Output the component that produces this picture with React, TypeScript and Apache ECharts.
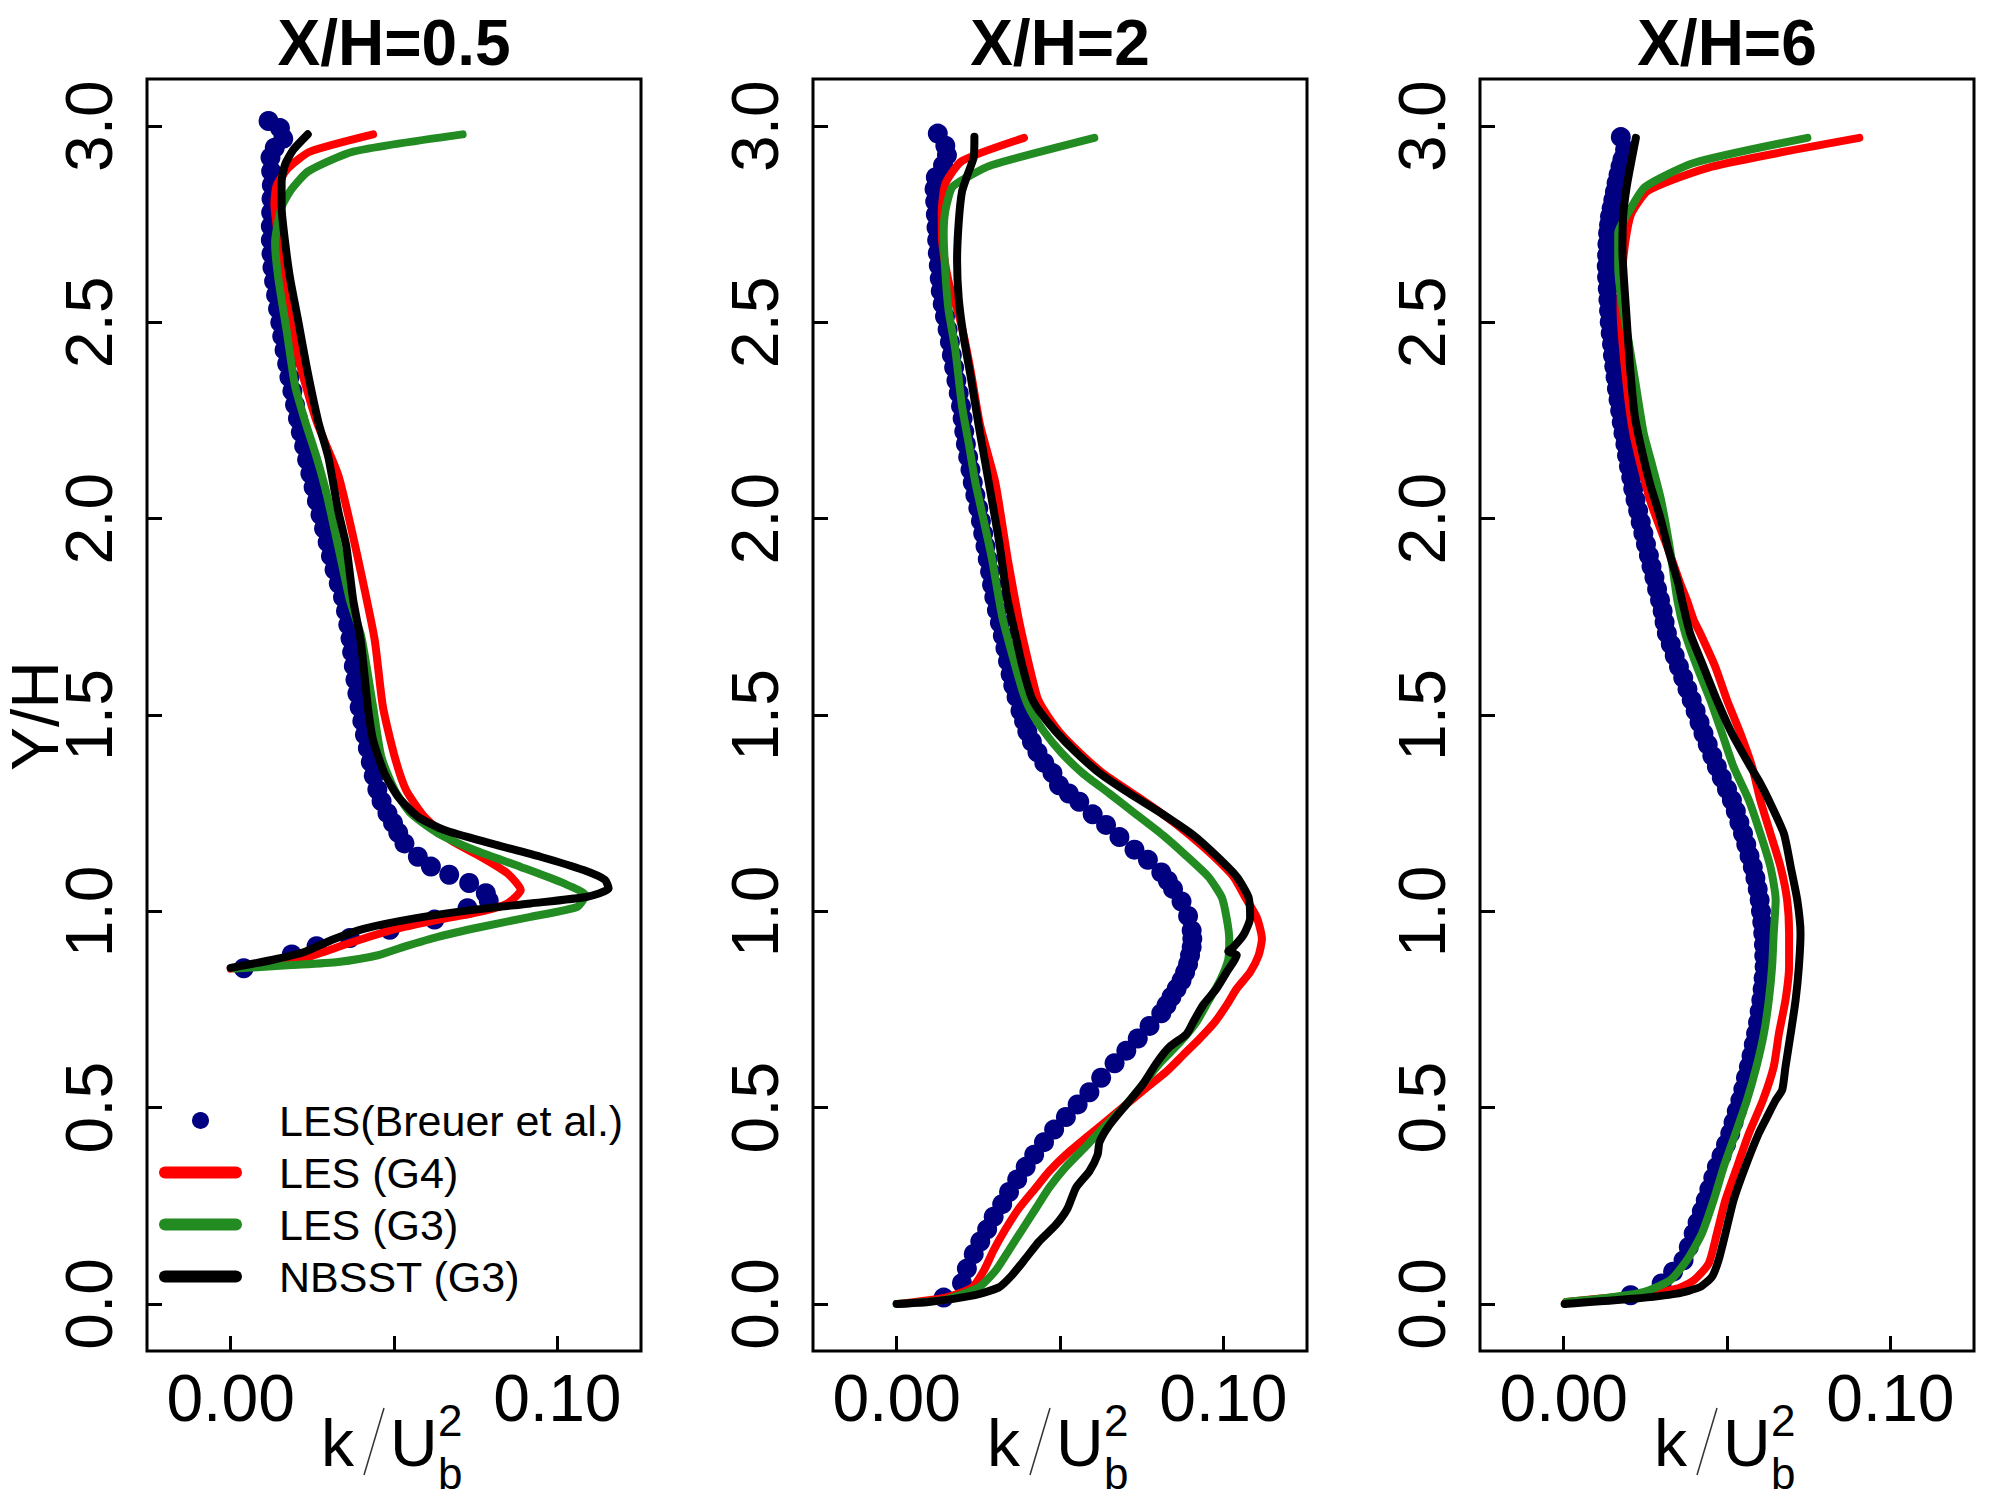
import React, { useEffect, useRef } from "react";
import * as echarts from "echarts";

const panelTitles = ["X/H=0.5", "X/H=2", "X/H=6"];
const seriesNames = ["LES(Breuer et al.)", "LES (G4)", "LES (G3)", "NBSST (G3)"];
const seriesColors = ["#000080", "#FF0000", "#228B22", "#000000"];
const xTickValues = [0, 0.05, 0.1];
const xLabelValues = [0, 0.1];
const yTickValues = [0, 0.5, 1, 1.5, 2, 2.5, 3];
const xRange = [-0.0256, 0.1256];
const yRange = [-0.12, 3.12];

// ---------- Panel 1 : X/H = 0.5 ----------
const p1Les = [
  [0.0116, 3.013], [0.0151, 2.995], [0.0161, 2.968], [0.0135, 2.945], [0.0122, 2.92], [0.0124, 2.885],
  [0.0126, 2.85], [0.0125, 2.815], [0.0124, 2.78], [0.0123, 2.745], [0.0123, 2.71], [0.0125, 2.675],
  [0.0128, 2.64], [0.0133, 2.605], [0.0139, 2.57], [0.0145, 2.535], [0.0152, 2.5], [0.0158, 2.465],
  [0.0165, 2.43], [0.0173, 2.395], [0.018, 2.36], [0.0189, 2.325], [0.0197, 2.29], [0.0206, 2.255],
  [0.0215, 2.22], [0.0225, 2.185], [0.0234, 2.15], [0.0244, 2.115], [0.0254, 2.08], [0.0264, 2.045],
  [0.0275, 2.01], [0.0286, 1.975], [0.0297, 1.94], [0.0307, 1.905], [0.0318, 1.87], [0.0331, 1.835],
  [0.0344, 1.8], [0.0353, 1.765], [0.036, 1.73], [0.0367, 1.695], [0.0372, 1.66], [0.0377, 1.625],
  [0.0382, 1.59], [0.0388, 1.555], [0.0395, 1.52], [0.0403, 1.485], [0.0411, 1.45], [0.042, 1.415],
  [0.0429, 1.38], [0.0438, 1.345], [0.0449, 1.31], [0.0462, 1.28], [0.048, 1.25], [0.0497, 1.225],
  [0.0513, 1.2], [0.0532, 1.173], [0.0573, 1.139], [0.0613, 1.114], [0.0669, 1.093], [0.073, 1.072],
  [0.0781, 1.046], [0.079, 1.027], [0.0725, 1.008], [0.0624, 0.979], [0.0487, 0.953], [0.0365, 0.932],
  [0.0263, 0.911], [0.0187, 0.89], [0.004, 0.855],
];
const p1G4 = [
  [0.0436, 2.979], [0.0243, 2.935], [0.0177, 2.894], [0.0141, 2.849], [0.0134, 2.803], [0.0148, 2.7],
  [0.0172, 2.55], [0.021, 2.4], [0.0262, 2.25], [0.0329, 2.112], [0.0368, 1.98], [0.0405, 1.839],
  [0.0441, 1.691], [0.0466, 1.521], [0.0502, 1.394], [0.0537, 1.309], [0.0593, 1.241], [0.0674, 1.181],
  [0.0766, 1.139], [0.0847, 1.097], [0.0888, 1.054], [0.0847, 1.02], [0.0766, 0.999], [0.0634, 0.978],
  [0.0492, 0.952], [0.036, 0.918], [0.0238, 0.884], [0.0106, 0.863], [0.0, 0.854],
];
const p1G3 = [
  [0.071, 2.979], [0.0375, 2.935], [0.0238, 2.885], [0.0187, 2.84], [0.0156, 2.794], [0.0136, 2.703],
  [0.0146, 2.612], [0.0172, 2.476], [0.0197, 2.339], [0.0228, 2.248], [0.0263, 2.157], [0.0293, 2.066],
  [0.0329, 1.93], [0.0365, 1.793], [0.04, 1.7], [0.0436, 1.521], [0.0461, 1.394], [0.0502, 1.309],
  [0.0552, 1.249], [0.0634, 1.199], [0.0746, 1.156], [0.0888, 1.113], [0.102, 1.071], [0.1086, 1.041],
  [0.106, 1.011], [0.0918, 0.986], [0.0766, 0.96], [0.0634, 0.935], [0.0532, 0.91], [0.0451, 0.888],
  [0.0329, 0.871], [0.0187, 0.863], [0.0014, 0.854],
];
const p1Nb = [
  [0.0236, 2.979], [0.0192, 2.94], [0.0167, 2.903], [0.0156, 2.858], [0.0156, 2.794], [0.0167, 2.703],
  [0.0182, 2.612], [0.0207, 2.503], [0.0233, 2.385], [0.0268, 2.248], [0.0299, 2.157], [0.0329, 2.021],
  [0.0354, 1.93], [0.0375, 1.793], [0.0398, 1.69], [0.042, 1.521], [0.0436, 1.436], [0.0471, 1.351],
  [0.0512, 1.292], [0.0573, 1.241], [0.0654, 1.207], [0.0796, 1.173], [0.0948, 1.139], [0.108, 1.105],
  [0.1146, 1.08], [0.1157, 1.058], [0.1091, 1.037], [0.0918, 1.02], [0.0735, 1.003], [0.0563, 0.982],
  [0.041, 0.956], [0.0309, 0.927], [0.0228, 0.897], [0.0126, 0.876], [0.0, 0.856],
];

// ---------- Panel 2 : X/H = 2 ----------
const p2Les = [
  [0.0126, 2.981], [0.0149, 2.95], [0.0154, 2.926], [0.0142, 2.9], [0.012, 2.87], [0.0116, 2.84],
  [0.0118, 2.808], [0.012, 2.775], [0.0122, 2.742], [0.0124, 2.71], [0.0126, 2.677], [0.0129, 2.645],
  [0.0132, 2.612], [0.0135, 2.58], [0.0141, 2.547], [0.0148, 2.515], [0.0156, 2.482], [0.0163, 2.45],
  [0.0169, 2.417], [0.0176, 2.385], [0.0183, 2.352], [0.019, 2.32], [0.0197, 2.287], [0.0202, 2.255],
  [0.0207, 2.222], [0.0212, 2.19], [0.0219, 2.157], [0.0226, 2.125], [0.0233, 2.092], [0.0241, 2.06],
  [0.025, 2.027], [0.0258, 1.994], [0.0265, 1.962], [0.0272, 1.93], [0.0279, 1.897], [0.0286, 1.865],
  [0.0292, 1.832], [0.0299, 1.8], [0.0307, 1.767], [0.0316, 1.735], [0.0325, 1.702], [0.0333, 1.67],
  [0.0341, 1.637], [0.0349, 1.604], [0.0357, 1.575], [0.0367, 1.546], [0.0379, 1.511], [0.039, 1.485],
  [0.04, 1.458], [0.0414, 1.432], [0.0431, 1.405], [0.0452, 1.378], [0.0477, 1.352], [0.0497, 1.321],
  [0.0527, 1.3], [0.0559, 1.279], [0.06, 1.247], [0.0641, 1.22], [0.0682, 1.189], [0.0728, 1.157],
  [0.0769, 1.131], [0.081, 1.099], [0.083, 1.078], [0.0846, 1.057], [0.0872, 1.025], [0.0892, 0.988],
  [0.0903, 0.951], [0.0905, 0.93], [0.0903, 0.909], [0.0898, 0.888], [0.0892, 0.866], [0.0883, 0.845],
  [0.0872, 0.824], [0.0857, 0.803], [0.0841, 0.782], [0.0826, 0.761], [0.081, 0.74], [0.0774, 0.708],
  [0.0738, 0.676], [0.0703, 0.645], [0.0667, 0.613], [0.0626, 0.576], [0.059, 0.539], [0.0554, 0.508],
  [0.0518, 0.476], [0.0482, 0.444], [0.0451, 0.412], [0.0421, 0.38], [0.0395, 0.349], [0.0369, 0.317],
  [0.0344, 0.285], [0.0323, 0.254], [0.0297, 0.222], [0.0277, 0.19], [0.0256, 0.159], [0.0236, 0.127],
  [0.0215, 0.09], [0.02, 0.053], [0.0144, 0.016],
];
const p2G4 = [
  [0.039, 2.97], [0.02, 2.911], [0.0149, 2.853], [0.0138, 2.775], [0.014, 2.7], [0.016, 2.6],
  [0.019, 2.52], [0.0207, 2.46], [0.0228, 2.37], [0.0255, 2.24], [0.0302, 2.092], [0.034, 1.897],
  [0.0372, 1.751], [0.0398, 1.653], [0.043, 1.546], [0.0452, 1.511], [0.0497, 1.458], [0.0559, 1.405],
  [0.0631, 1.352], [0.0723, 1.3], [0.0815, 1.247], [0.0897, 1.194], [0.0969, 1.141], [0.1031, 1.088],
  [0.1067, 1.036], [0.1103, 0.983], [0.1118, 0.93], [0.1108, 0.888], [0.1082, 0.845], [0.1041, 0.803],
  [0.101, 0.761], [0.0974, 0.718], [0.0928, 0.676], [0.0877, 0.634], [0.0826, 0.592], [0.0764, 0.55],
  [0.0703, 0.508], [0.0641, 0.465], [0.0579, 0.423], [0.0518, 0.38], [0.0467, 0.338], [0.0426, 0.296],
  [0.0374, 0.243], [0.0333, 0.19], [0.0297, 0.137], [0.0267, 0.085], [0.0231, 0.042], [0.0149, 0.016],
  [0.0005, 0.0],
];
const p2G3 = [
  [0.0605, 2.97], [0.0292, 2.901], [0.021, 2.867], [0.0169, 2.843], [0.0149, 2.784], [0.0144, 2.726],
  [0.0149, 2.629], [0.0159, 2.531], [0.0179, 2.434], [0.02, 2.287], [0.0221, 2.19], [0.0241, 2.092],
  [0.0267, 1.994], [0.0292, 1.897], [0.0323, 1.751], [0.0354, 1.653], [0.0386, 1.56], [0.041, 1.511],
  [0.0451, 1.458], [0.0503, 1.405], [0.0569, 1.352], [0.0651, 1.3], [0.0733, 1.247], [0.0815, 1.194],
  [0.0887, 1.141], [0.0954, 1.088], [0.0995, 1.036], [0.101, 0.983], [0.1018, 0.93], [0.1015, 0.877],
  [0.099, 0.824], [0.0954, 0.771], [0.0918, 0.718], [0.0867, 0.666], [0.0805, 0.613], [0.0754, 0.56],
  [0.0703, 0.508], [0.0641, 0.455], [0.0579, 0.401], [0.0518, 0.349], [0.0467, 0.296], [0.0426, 0.243],
  [0.0385, 0.19], [0.0344, 0.137], [0.0303, 0.085], [0.0251, 0.042], [0.0149, 0.011], [0.0, 0.0],
];
const p2Nb = [
  [0.0238, 2.973], [0.0236, 2.921], [0.0215, 2.872], [0.02, 2.833], [0.019, 2.755], [0.0185, 2.658],
  [0.019, 2.561], [0.0205, 2.463], [0.0226, 2.365], [0.0251, 2.238], [0.0282, 2.092], [0.0313, 1.945],
  [0.0338, 1.8], [0.0364, 1.702], [0.0385, 1.624], [0.0412, 1.546], [0.0436, 1.511], [0.0487, 1.458],
  [0.0549, 1.405], [0.0621, 1.352], [0.0713, 1.3], [0.0815, 1.247], [0.0908, 1.194], [0.0979, 1.141],
  [0.1041, 1.088], [0.1077, 1.036], [0.1082, 0.983], [0.1062, 0.94], [0.1031, 0.909], [0.1015, 0.898],
  [0.1041, 0.888], [0.101, 0.845], [0.0979, 0.803], [0.0938, 0.761], [0.0908, 0.718], [0.0887, 0.687],
  [0.0836, 0.655], [0.0795, 0.613], [0.0754, 0.56], [0.0703, 0.508], [0.0651, 0.455], [0.0621, 0.412],
  [0.0615, 0.38], [0.059, 0.338], [0.0549, 0.296], [0.0523, 0.243], [0.0487, 0.201], [0.0436, 0.159],
  [0.0395, 0.116], [0.0354, 0.074], [0.0313, 0.042], [0.0231, 0.021], [0.0097, 0.005], [0.0, 0.0],
];

// ---------- Panel 3 : X/H = 6 ----------
const p3Les = [
  [0.0175, 2.972], [0.0188, 2.94], [0.018, 2.915], [0.0174, 2.897], [0.0168, 2.876], [0.0162, 2.855],
  [0.0157, 2.833], [0.0152, 2.812], [0.0147, 2.791], [0.0142, 2.77], [0.0139, 2.749], [0.0136, 2.728],
  [0.0134, 2.7], [0.0133, 2.671], [0.0132, 2.643], [0.0133, 2.615], [0.0135, 2.586], [0.0137, 2.558],
  [0.0139, 2.53], [0.0141, 2.501], [0.0144, 2.473], [0.0148, 2.445], [0.0151, 2.416], [0.0155, 2.388],
  [0.0159, 2.36], [0.0163, 2.331], [0.0168, 2.303], [0.0173, 2.275], [0.0178, 2.246], [0.0183, 2.218],
  [0.0189, 2.19], [0.0194, 2.161], [0.02, 2.133], [0.0207, 2.105], [0.0213, 2.076], [0.022, 2.048],
  [0.0228, 2.02], [0.0236, 1.991], [0.0244, 1.963], [0.0252, 1.935], [0.0261, 1.906], [0.0269, 1.878],
  [0.0278, 1.85], [0.0286, 1.821], [0.0295, 1.793], [0.0303, 1.765], [0.0309, 1.736], [0.0316, 1.708],
  [0.0328, 1.68], [0.034, 1.651], [0.0353, 1.623], [0.0366, 1.595], [0.0379, 1.566], [0.0392, 1.538],
  [0.0404, 1.51], [0.0416, 1.481], [0.0428, 1.453], [0.0441, 1.425], [0.0455, 1.396], [0.0469, 1.368],
  [0.0484, 1.34], [0.05, 1.311], [0.0515, 1.283], [0.0527, 1.255], [0.0538, 1.226], [0.0549, 1.198],
  [0.0559, 1.17], [0.0569, 1.141], [0.0579, 1.113], [0.0587, 1.085], [0.0594, 1.057], [0.06, 1.029],
  [0.0604, 1.0], [0.0608, 0.972], [0.0611, 0.944], [0.0613, 0.915], [0.0614, 0.887], [0.0615, 0.859],
  [0.0612, 0.83], [0.0609, 0.802], [0.0605, 0.774], [0.06, 0.745], [0.0595, 0.717], [0.0589, 0.689],
  [0.0582, 0.661], [0.0575, 0.632], [0.0567, 0.604], [0.0558, 0.576], [0.055, 0.547], [0.0541, 0.519],
  [0.053, 0.491], [0.052, 0.462], [0.051, 0.434], [0.0497, 0.406], [0.0483, 0.377], [0.0469, 0.349],
  [0.0458, 0.321], [0.0446, 0.292], [0.0435, 0.264], [0.0423, 0.236], [0.041, 0.207], [0.0398, 0.179],
  [0.0383, 0.145], [0.0367, 0.111], [0.0335, 0.082], [0.03, 0.052], [0.0205, 0.022],
];
const p3G4 = [
  [0.0905, 2.97], [0.0454, 2.897], [0.0259, 2.836], [0.0208, 2.779], [0.0193, 2.728], [0.018, 2.64],
  [0.0174, 2.541], [0.0187, 2.388], [0.0213, 2.218], [0.0264, 2.048], [0.0321, 1.92], [0.0357, 1.835],
  [0.0377, 1.793], [0.0398, 1.742], [0.0418, 1.708], [0.0464, 1.623], [0.05, 1.538], [0.0541, 1.453],
  [0.0577, 1.368], [0.0602, 1.283], [0.0633, 1.198], [0.0664, 1.113], [0.0684, 1.029], [0.069, 0.944],
  [0.069, 0.859], [0.0679, 0.774], [0.0659, 0.689], [0.0643, 0.604], [0.061, 0.519], [0.0567, 0.434],
  [0.0531, 0.349], [0.0495, 0.264], [0.0469, 0.179], [0.0444, 0.103], [0.0398, 0.06], [0.0346, 0.039],
  [0.0213, 0.022], [0.0008, 0.005],
];
const p3G3 = [
  [0.0746, 2.97], [0.0398, 2.906], [0.0249, 2.845], [0.0203, 2.787], [0.0167, 2.728], [0.0167, 2.643],
  [0.0177, 2.558], [0.0198, 2.456], [0.022, 2.345], [0.0245, 2.218], [0.0272, 2.133], [0.0298, 2.048],
  [0.0326, 1.92], [0.0348, 1.793], [0.0372, 1.708], [0.0408, 1.623], [0.0449, 1.538], [0.0485, 1.453],
  [0.052, 1.368], [0.0567, 1.283], [0.0602, 1.198], [0.0633, 1.113], [0.0649, 1.029], [0.0643, 0.944],
  [0.0638, 0.859], [0.0628, 0.774], [0.0613, 0.689], [0.059, 0.604], [0.0561, 0.519], [0.0526, 0.434],
  [0.049, 0.349], [0.0459, 0.264], [0.0423, 0.179], [0.0377, 0.111], [0.0326, 0.06], [0.0244, 0.03],
  [0.0111, 0.013], [0.0008, 0.005],
];
const p3Nb = [
  [0.0221, 2.97], [0.0208, 2.914], [0.0193, 2.846], [0.0182, 2.77], [0.018, 2.685], [0.0191, 2.532],
  [0.0203, 2.388], [0.0218, 2.26], [0.0239, 2.175], [0.0264, 2.09], [0.0295, 2.005], [0.0321, 1.92],
  [0.0351, 1.835], [0.0362, 1.793], [0.0387, 1.708], [0.0428, 1.623], [0.0469, 1.538], [0.0515, 1.453],
  [0.0572, 1.368], [0.0602, 1.326], [0.0628, 1.283], [0.0674, 1.198], [0.0695, 1.113], [0.0715, 1.029],
  [0.0725, 0.944], [0.072, 0.859], [0.071, 0.774], [0.0695, 0.689], [0.0679, 0.604], [0.0669, 0.545],
  [0.0649, 0.519], [0.0623, 0.477], [0.0597, 0.434], [0.0556, 0.349], [0.052, 0.264], [0.0495, 0.179],
  [0.0474, 0.111], [0.0454, 0.069], [0.0418, 0.043], [0.0346, 0.026], [0.0213, 0.013], [0.0003, 0.0],
];

const panels = [
  [p1Les, p1G4, p1G3, p1Nb],
  [p2Les, p2G4, p2G3, p2Nb],
  [p3Les, p3G4, p3G3, p3Nb],
];

// layout (pixels)
const gridLefts = [147, 813, 1480];
const gridTop = 79;
const gridWidth = 494;
const gridHeight = 1272;
const FONT = '"Liberation Sans", Arial, Helvetica, sans-serif';
const LEGEND_LINE_ICON = "path://M6,0 H77 A6,6 0 0 1 77,12 H6 A6,6 0 0 1 6,0 Z";

export default function App() {
  const ref = useRef<HTMLDivElement>(null);
  useEffect(() => {
    if (!ref.current) return;
    const chart = echarts.init(ref.current, undefined, { renderer: "svg" });

    const grids: any[] = [];
    const xAxes: any[] = [];
    const yAxes: any[] = [];
    const series: any[] = [];
    const graphics: any[] = [];

    panels.forEach((data, i) => {
      const left = gridLefts[i];
      const cx = left + gridWidth / 2;
      grids.push({
        left, top: gridTop, width: gridWidth, height: gridHeight,
        show: true, borderColor: "#000", borderWidth: 3, backgroundColor: "transparent",
        containLabel: false, outerBoundsMode: "none",
      });
      xAxes.push({
        type: "value", gridIndex: i, min: xRange[0], max: xRange[1],
        axisLine: { show: false, onZero: false },
        splitLine: { show: false },
        axisTick: { show: true, inside: true, length: 15, lineStyle: { color: "#000", width: 3 }, customValues: xTickValues },
        axisLabel: {
          show: true, customValues: xLabelValues, margin: 14, color: "#000", fontSize: 66, fontFamily: FONT,
          formatter: (v: number) => v.toFixed(2),
        },
      });
      yAxes.push({
        type: "value", gridIndex: i, min: yRange[0], max: yRange[1],
        axisLine: { show: false, onZero: false },
        splitLine: { show: false },
        axisTick: { show: true, inside: true, length: 15, lineStyle: { color: "#000", width: 3 }, customValues: yTickValues },
        axisLabel: {
          show: true, customValues: yTickValues, rotate: 90, margin: 25, color: "#000", fontSize: 66, fontFamily: FONT,
          formatter: (v: number) => v.toFixed(1),
        },
      });
      series.push({
        type: "scatter", name: seriesNames[0], xAxisIndex: i, yAxisIndex: i,
        data: data[0], symbol: "circle", symbolSize: 20,
        itemStyle: { color: seriesColors[0], opacity: 1 },
      });
      for (let k = 1; k < 4; k++) {
        series.push({
          type: "line", name: seriesNames[k], xAxisIndex: i, yAxisIndex: i,
          data: data[k], symbol: "none", smooth: 0.2,
          lineStyle: { color: seriesColors[k], width: 8, cap: "round", join: "round" },
          itemStyle: { color: seriesColors[k] },
        });
      }
      graphics.push({
        type: "text", x: cx, y: 43,
        style: { text: panelTitles[i], fontSize: 64, fontWeight: "bold", fontFamily: FONT, fill: "#000", align: "center", verticalAlign: "middle" },
      });
      // x-axis title k / U_b^2
      graphics.push({
        type: "text", x: cx - 73, y: 1443,
        style: { text: "k", fontSize: 66, fontFamily: FONT, fill: "#000", align: "left", verticalAlign: "middle" },
      });
      graphics.push({
        type: "line", shape: { x1: cx - 10, y1: 1408, x2: cx - 30, y2: 1475 },
        style: { stroke: "#333", lineWidth: 1.5 },
      });
      graphics.push({
        type: "text", x: cx - 4, y: 1443,
        style: { text: "U", fontSize: 66, fontFamily: FONT, fill: "#000", align: "left", verticalAlign: "middle" },
      });
      graphics.push({
        type: "text", x: cx + 44, y: 1420,
        style: { text: "2", fontSize: 44, fontFamily: FONT, fill: "#000", align: "left", verticalAlign: "middle" },
      });
      graphics.push({
        type: "text", x: cx + 44, y: 1473,
        style: { text: "b", fontSize: 44, fontFamily: FONT, fill: "#000", align: "left", verticalAlign: "middle" },
      });
    });

    graphics.push({
      type: "text", x: 35, y: 716, rotation: Math.PI / 2,
      style: { text: "Y/H", fontSize: 66, fontFamily: FONT, fill: "#000", align: "center", verticalAlign: "middle" },
    });

    chart.setOption({
      animation: false,
      backgroundColor: "#fff",
      grid: grids,
      xAxis: xAxes,
      yAxis: yAxes,
      series,
      graphic: graphics,
      legend: {
        show: true,
        orient: "vertical",
        left: 159,
        top: 1099,
        padding: 0,
        itemWidth: 83,
        itemHeight: 17,
        itemGap: 9,
        selectedMode: false,
        symbolKeepAspect: true,
        textStyle: { color: "#000", fontSize: 43, fontFamily: FONT, padding: [0, 0, 0, 32] },
        data: [
          { name: seriesNames[0], icon: "circle" },
          { name: seriesNames[1], icon: LEGEND_LINE_ICON },
          { name: seriesNames[2], icon: LEGEND_LINE_ICON },
          { name: seriesNames[3], icon: LEGEND_LINE_ICON },
        ],
      },
    });

    return () => chart.dispose();
  }, []);

  return (
    <div
      ref={ref}
      style={{ position: "absolute", left: 0, top: 0, width: 2000, height: 1500, background: "#fff" }}
    />
  );
}
